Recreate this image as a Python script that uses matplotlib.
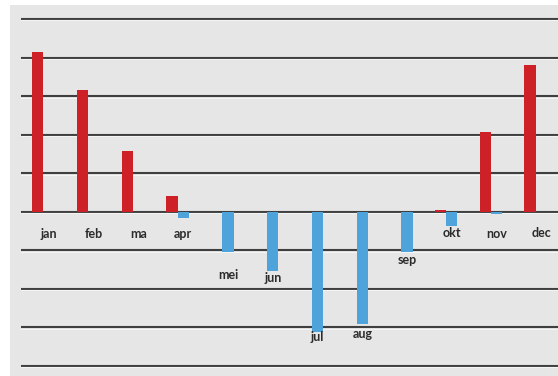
import matplotlib
matplotlib.use("Agg")
import matplotlib.pyplot as plt
from matplotlib.patches import Rectangle
import numpy as np

# Monthly balance: surplus (red) and deficit (blue)
months = ["jan", "feb", "ma", "apr", "mei", "jun", "jul", "aug", "sep", "okt", "nov", "dec"]
surplus = [4.14, 3.15, 1.58, 0.41, 0, 0, 0, 0, 0, 0.04, 2.08, 3.80]
deficit = [0, 0, 0, -0.15, -1.05, -1.535, -3.11, -2.92, -1.05, -0.37, -0.05, 0]

# Gap (in pixels) between each month label and the end of its blue bar
label_gap_px = [22, 22, 22, 16, 23, 7, 5, 10, 8, 7, 20, 21]

W, H = 558, 376
fig = plt.figure(figsize=(W / 100, H / 100), dpi=100)
fig.patch.set_facecolor("white")

# Grey chart area
fig.patches.append(Rectangle((10 / W, 0), 1 - 10 / W, (H - 5) / H,
                             transform=fig.transFigure, facecolor="#e6e6e6",
                             edgecolor="none", zorder=-10))

ax = fig.add_axes([21 / W, 0, 1 - 21 / W, (H - 5) / H])
ax.set_zorder(5)
ax.set_facecolor("none")
for s in ax.spines.values():
    s.set_visible(False)
ax.set_xticks([])
ax.set_yticks([])

ax.set_xlim(-0.5, 11.5)
ax.set_ylim(-4 - 10 / 38.56, 5 + 14 / 38.56)

# Horizontal gridlines with a faint light edge underneath
for v in range(-4, 6):
    ax.axhline(v, color="#3f3f3f", lw=1.5, zorder=1)
    ax.axhline(v - 1.4 / 38.56, color="#f4f4f4", lw=0.8, zorder=1)

x = np.arange(len(months))
w = 0.253
ax.bar(x - w / 2, surplus, width=w, color="#cd2127", zorder=3)
ax.bar(x + w / 2, deficit, width=w, color="#4ea3da", zorder=3)

for xi, name, d, gap in zip(x, months, deficit, label_gap_px):
    ax.annotate(name, xy=(xi + w / 2, min(d, 0)), xytext=(0, -gap),
                textcoords="offset pixels", ha="center", va="center",
                fontsize=9, fontweight="bold", family="Lato",
                color="#2b2b2b", zorder=4)

fig.savefig("out.png", dpi=100)
